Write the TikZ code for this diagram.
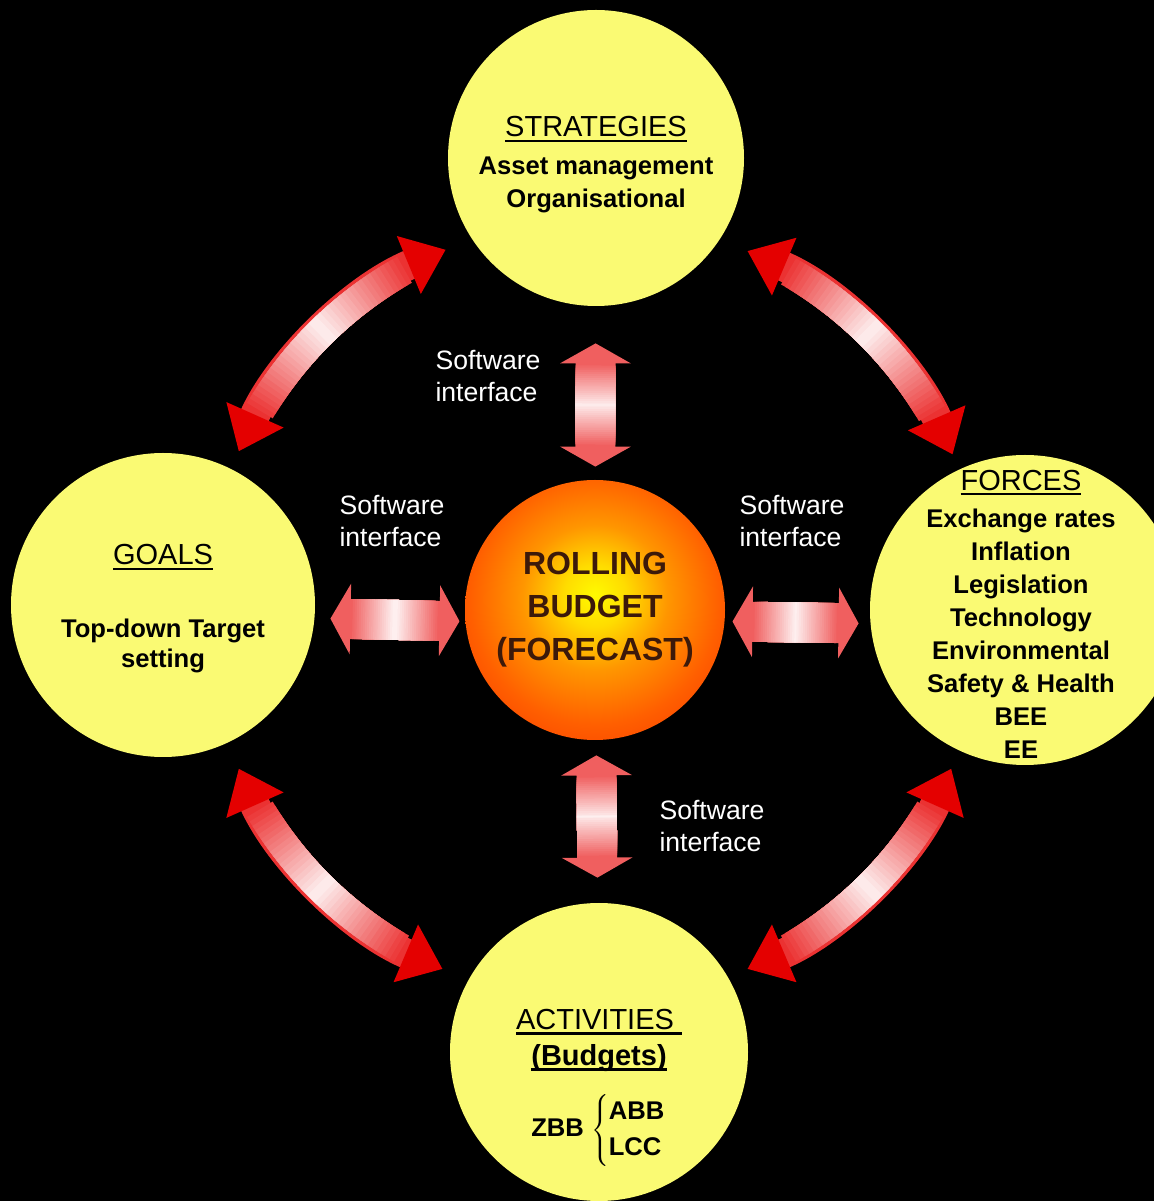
\documentclass[tikz,border=0pt]{standalone}
\usepackage{fontspec}
\setmainfont{Liberation Sans}
\usetikzlibrary{
	arrows.meta,
	calc
}
\definecolor{ballyellow}{RGB}{250,250,115}
\definecolor{linkpink}{RGB}{240,95,95}
\definecolor{linkred}{RGB}{235,50,50}
\definecolor{headred}{RGB}{228,0,0}
\definecolor{budgetink}{RGB}{60,25,10}
\definecolor{glowA}{RGB}{255,250,0}
\definecolor{glowB}{RGB}{255,220,0}
\definecolor{glowC}{RGB}{255,150,0}
\definecolor{glowD}{RGB}{255,95,0}
\definecolor{glowE}{RGB}{245,50,0}
\definecolor{glowF}{RGB}{225,25,0}
\definecolor{glowG}{RGB}{200,10,0}
\pgfdeclareradialshading{budgetglow}{\pgfpoint{0bp}{3bp}}{%
	color(0bp)=(glowA); color(6bp)=(glowB); color(14bp)=(glowC);
	color(24bp)=(glowD); color(36bp)=(glowE); color(46bp)=(glowF);
	color(50bp)=(glowG); color(70bp)=(black)}
\newcommand\bodyfont{\fontsize{12.8}{16.5}\selectfont\bfseries}
\newcommand\headfont{\fontsize{14.5}{16.5}\selectfont\mdseries}
\newcommand\labelfont{\fontsize{13.3}{16}\selectfont}
\newcommand\budgetfont{\fontsize{16}{21.5}\selectfont\bfseries}
\newcommand\uline[1]{\setbox0\hbox{#1}\rlap{\rule[-2.6pt]{\wd0}{1.3pt}}\box0}
\tikzset{
	yellow ball/.style={
		circle, fill=ballyellow, minimum size=#1, inner sep=0pt
	},
	ball text/.style={
		align=center, text=black, font=\bodyfont
	},
	sw label/.style={
		align=left, text=white, font=\labelfont
	},
	soft link/.style={
		line width=20pt, color=linkpink,
		{Triangle[length=10pt,width=35pt]}-{Triangle[length=10pt,width=35pt]}
	},
	soft link body/.style={
		line width=20pt
	},
	curve link/.style={
		line width=15pt, color=linkred,
		{Triangle[length=20pt,width=30pt,color=headred]}-{Triangle[length=20pt,width=30pt,color=headred]}
	},
	curve link body/.style={
		line width=15pt
	}
}
% straight software link: from, to, free gap at each end (pt)
\newcommand\softlink[4]{%
	\draw[soft link, shorten <=#3pt, shorten >=#4pt] #1 -- #2;
	\foreach \k in {1,...,20}{
		\pgfmathtruncatemacro\mix{100-4.5*\k}
		\draw[soft link body, color=linkpink!\mix!white,
			shorten <=#3pt+10pt+1.05pt*\k, shorten >=#4pt+10pt+1.05pt*\k] #1 -- #2;
	}
}
% curved link round the budget: start and end angle
\newcommand\curvelink[2]{%
	\draw[curve link] ($(budget.center)+(#1:195pt)$)
		arc[start angle=#1, end angle=#2, radius=195pt];
	\foreach \k in {1,...,20}{
		\pgfmathsetmacro\half{(abs(#2-#1)/2-6)*(1-\k/21)}
		\pgfmathsetmacro\sa{(#1+#2)/2-\half}
		\pgfmathsetmacro\ea{(#1+#2)/2+\half}
		\pgfmathtruncatemacro\mix{100-4.5*\k}
		\draw[curve link body, color=linkred!\mix!white] ($(budget.center)+(\sa:195pt)$)
			arc[start angle=\sa, end angle=\ea, radius=195pt];
	}
}

\begin{document}
\begin{tikzpicture}[x=0.5pt, y=0.5pt]
	\useasboundingbox (0,0) rectangle (1154,1201);
	\fill[black] (0,0) rectangle (1154,1201);

	% the five balls
	\node[yellow ball=148pt] (strat)  at (596,1043) {};
	\node[yellow ball=152pt] (goals)  at (163,596)  {};
	\node[yellow ball=155pt] (forces) at (1025,591) {};
	\node[yellow ball=149pt] (activ)  at (599,149)  {};
	\node[circle, shade, shading=budgetglow, minimum size=130pt, inner sep=0pt,
		align=center, text=budgetink, font=\budgetfont] (budget) at (595,591)
		{ROLLING\\BUDGET\\(FORECAST)};

	% texts in the balls
	\node[ball text] (strat-text) at (596,1036)
		{{\headfont\uline{STRATEGIES}}\\[2.5pt]
		Asset management\\ Organisational};
	\node[ball text] (goals-text) at (163,592)
		{{\headfont\uline{GOALS}}\\[20pt]
		Top-down Target\\[-1.5pt] setting};
	\node[ball text] (forces-text) at (1021,587)
		{{\headfont\uline{FORCES}}\\[2pt]
		Exchange rates\\ Inflation\\ Legislation\\ Technology\\
		Environmental\\ Safety \& Health\\ BEE\\ EE};
	\node[ball text] (activ-text) at (599,113)
		{{\headfont\uline{ACTIVITIES\hspace{4pt}}}\\[1.5pt]
		{\headfont\bfseries\uline{(Budgets)}}\\[10pt]
		ZBB\ $\left\{\renewcommand\arraystretch{1.1}%
		\begin{tabular}{@{}l@{}}ABB\\ LCC\end{tabular}\right.$};

	% software interfaces
	\node[sw label] (sw-top)    at (488,825) {Software\\interface};
	\node[sw label] (sw-left)   at (392,680) {Software\\interface};
	\node[sw label] (sw-right)  at (792,680) {Software\\interface};
	\node[sw label] (sw-bottom) at (712,375) {Software\\interface};

	\softlink{(strat)}{(budget)}{18.5}{6.5}
	\softlink{(budget)}{(activ)}{7.5}{12.5}
	\softlink{(goals.-5)}{(budget.185)}{7.8}{2.8}
	\softlink{(budget.-5)}{(forces.185)}{3.8}{5.8}

	% links between the outer balls
	\curvelink{112.5}{156}
	\curvelink{23.5}{67}
	\curvelink{204}{247}
	\curvelink{293}{336}
\end{tikzpicture}
\end{document}
